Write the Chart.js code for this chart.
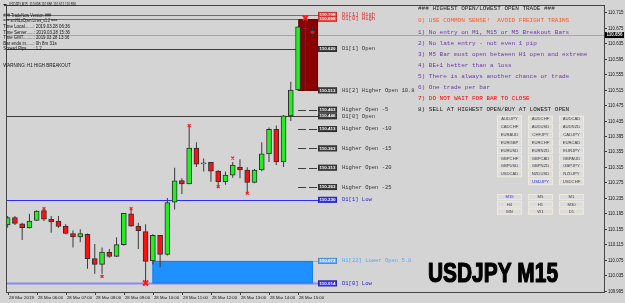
<!DOCTYPE html>
<html><head><meta charset="utf-8">
<script src="https://cdn.jsdelivr.net/npm/chart.js@4.4.1/dist/chart.umd.min.js"></script>
<style>html,body{margin:0;padding:0;background:#d4d4d4;overflow:hidden}canvas{display:block}</style>
</head><body>
<canvas id="c" width="625" height="303"></canvas>
<script>
// ---------- DATA ----------
const candleTimes = ["05:00","05:15","05:30","05:45","06:00","06:15","06:30","06:45","07:00","07:15","07:30","07:45","08:00","08:15","08:30","08:45","09:00","09:15","09:30","09:45","10:00","10:15","10:30","10:45","11:00","11:15","11:30","11:45","12:00","12:15","12:30","12:45","13:00","13:15","13:30","13:45","14:00","14:15","14:30","14:45","15:00","15:15","15:30"];
const openP  = [110.165,110.184,110.168,110.158,110.177,110.202,110.180,110.175,110.162,110.143,110.134,110.141,110.078,110.063,110.094,110.084,110.114,110.194,110.162,110.148,110.072,110.138,110.089,110.224,110.280,110.271,110.364,110.323,110.327,110.304,110.277,110.294,110.314,110.307,110.275,110.307,110.349,110.412,110.328,110.447,110.514,110.675,110.668];
const highP  = [110.188,110.188,110.171,110.194,110.203,110.207,110.188,110.188,110.167,110.151,110.154,110.143,110.116,110.107,110.103,110.133,110.196,110.208,110.171,110.167,110.141,110.139,110.235,110.313,110.286,110.423,110.379,110.337,110.328,110.307,110.303,110.328,110.335,110.314,110.310,110.379,110.417,110.422,110.449,110.535,110.679,110.703,110.676];
const lowP   = [110.158,110.165,110.126,110.156,110.175,110.175,110.145,110.158,110.141,110.107,110.120,110.052,110.039,110.039,110.080,110.082,110.111,110.161,110.103,110.014,110.063,110.056,110.086,110.205,110.245,110.270,110.315,110.303,110.277,110.262,110.269,110.287,110.286,110.245,110.273,110.304,110.328,110.320,110.315,110.434,110.512,110.512,110.652];
const closeP = [110.184,110.169,110.158,110.175,110.201,110.180,110.173,110.161,110.143,110.134,110.143,110.078,110.063,110.095,110.084,110.114,110.195,110.162,110.150,110.071,110.138,110.089,110.223,110.279,110.271,110.364,110.322,110.325,110.304,110.277,110.294,110.320,110.307,110.275,110.307,110.349,110.412,110.328,110.447,110.514,110.677,110.671,110.658];

const fractalIdx   = [5,13,17,25,29,31,33];
const fractalPrice = [110.207,110.032,110.207,110.422,110.264,110.338,110.247];
const bigMarkIdx   = [19,41];
const bigMarkPrice = [110.015,110.700];

const levelNames  = ["D1[1] High","D1[0] High","D1[1] Open","H1[2] Higher Open 10.8","Higher Open -5","D1[0] Open","Higher Open -10","Higher Open -15","Higher Open -20","Higher Open -25","D1[1] Low","H1[22] Lower Open 5.8","D1[0] Low"];
const levelPrices = [110.708,110.698,110.620,110.513,110.463,110.446,110.413,110.363,110.313,110.263,110.230,110.072,110.014];

const bidPrice = 110.656;
// zones: [startIdx, endIdx, lowPrice, highPrice]
const blueZone = [19.95, 42.05, 110.014, 110.072];
const redZone  = [40.05, 42.75, 110.512, 110.697];

const yTicks = [110.715,110.675,110.635,110.595,110.555,110.515,110.475,110.435,110.395,110.355,110.315,110.275,110.235,110.195,110.155,110.115,110.075,110.035,109.995];
const xTickIdx = [0,4,8,12,16,20,24,28,32,36,40];
const xTickLabels = ["28 Mar 2019","28 Mar 06:00","28 Mar 07:00","28 Mar 08:00","28 Mar 09:00","28 Mar 10:00","28 Mar 11:00","28 Mar 12:00","28 Mar 13:00","28 Mar 14:00","28 Mar 15:00"];

const headerText = "USDJPY,M15  110.698 110.686 110.612 110.656";
const infoLines = ["### TradeNow Version ###","=== smHiLoOpen Lines_v1.2 ===","Time Local.......: 2019.03.28 06:36","Time Server......: 2019.03.28 15:36","Time GMT.........: 2019.03.28 13:36","Bar ends in......: 0h 8m 31s","Spread Pips......: 1.2","WARNING: H1 HIGH BREAKOUT"];
const ruleLines = ["### HIGHEST OPEN/LOWEST OPEN TRADE ###","0) USE COMMON SENSE!  AVOID FREIGHT TRAINS","1) No entry on M1, M15 or M5 Breakout Bars","2) No late entry - not even 1 pip","3) M5 Bar must open between H1 open and extreme","4) BE+1 better than a loss","5) There is always another chance or trade","6) One trade per bar","7) DO NOT WAIT FOR BAR TO CLOSE","8) SELL AT HIGHEST OPEN/BUY AT LOWEST OPEN"];
const pairRows = [["AUDJPY","AUDCHF","AUDCAD"],["CADCHF","AUDUSD","AUDNZD"],["EURAUD","CHFJPY","CADJPY"],["EURGBP","EURCHF","EURCAD"],["EURUSD","EURNZD","EURJPY"],["GBPCHF","GBPCAD","GBPAUD"],["GBPUSD","GBPNZD","GBPJPY"],["USDCAD","NZDUSD","NZDJPY"],["","USDJPY","USDCHF"]];
const tfRows = [["M15","M5","M1"],["H4","H1","M30"],["MN","W1","D1"]];
const activeButtons = ["USDJPY","M15"];
const bigTitle = "USDJPY M15";

// ---------- STYLE ----------
const BG = '#d4d4d4';
const UP = '#22ee22', DOWN = '#ff1010';
const levelLine  = ['#ff3030','#ff3030','#3c3c3c','#3c3c3c','#3c3c3c','#3c3c3c','#3c3c3c','#3c3c3c','#3c3c3c','#3c3c3c','#2c2cff','#6ab4ff','#8a8af2'];
const levelFill  = ['#ff3a3a','#ff3a3a','#3c3c3c','#3c3c3c','#3c3c3c','#3c3c3c','#3c3c3c','#3c3c3c','#3c3c3c','#3c3c3c','#2c2cff','#62b0ff','#3030ff'];
const levelText  = ['#e82020','#e82020','#333333','#333333','#333333','#333333','#333333','#333333','#333333','#333333','#2424d8','#55a8ff','#2424d8'];
const levelKind  = ['full','full','full','short','short','full','short','short','short','short','full','tail','full2'];
const ruleColors = ['#262626','#ff5a28','#6a38a8','#6a38a8','#6a38a8','#6a38a8','#6a38a8','#6a38a8','#ff0000','#1a1a1a'];
const LABEL_IDX = 42.75;

function T(ctx, s, x, y, font, color, w, align, stroke) {
  ctx.save();
  ctx.font = font; ctx.fillStyle = color; ctx.textBaseline = 'middle';
  let m = ctx.measureText(s).width;
  let sx = w ? w / m : 1;
  let tx = x;
  if (align === 'center') tx = x - (m * sx) / 2;
  ctx.translate(tx, y); ctx.scale(sx, 1);
  ctx.fillText(s, 0, 0);
  if (stroke) { ctx.strokeStyle = color; ctx.lineWidth = stroke; ctx.lineJoin = 'round'; ctx.strokeText(s, 0, 0); }
  ctx.restore();
}

const mt4 = {
  id: 'mt4',
  beforeDraw(chart) {
    const ctx = chart.ctx;
    ctx.save(); ctx.fillStyle = BG; ctx.fillRect(0, 0, chart.width, chart.height); ctx.restore();
  },
  beforeDatasetsDraw(chart) {
    const {ctx, chartArea: a, scales: {x: xs, y: ys}} = chart;
    const lx = xs.getPixelForValue(LABEL_IDX);
    ctx.save();
    let by = Math.round(ys.getPixelForValue(bidPrice)) + 0.5;
    ctx.strokeStyle = '#a2a6b4'; ctx.lineWidth = 1;
    ctx.beginPath(); ctx.moveTo(a.left, by); ctx.lineTo(a.right, by); ctx.stroke();
    levelPrices.forEach((p, i) => {
      const yy = Math.round(ys.getPixelForValue(p)) + 0.5;
      const k = levelKind[i];
      ctx.strokeStyle = levelLine[i]; ctx.lineWidth = 1; ctx.setLineDash([]);
      let x0 = a.left;
      if (k === 'short') { x0 = xs.getPixelForValue(40); ctx.setLineDash([8, 3]); }
      if (k === 'tail') x0 = xs.getPixelForValue(blueZone[1]);
      if (k === 'full2') ctx.lineWidth = 2;
      ctx.beginPath(); ctx.moveTo(x0, yy); ctx.lineTo(lx, yy); ctx.stroke();
    });
    ctx.setLineDash([]);
    const zone = (z, fill, stroke) => {
      const x0 = xs.getPixelForValue(z[0]), x1 = xs.getPixelForValue(z[1]);
      const y0 = ys.getPixelForValue(z[3]), y1 = ys.getPixelForValue(z[2]);
      ctx.fillStyle = fill; ctx.fillRect(x0, y0, x1 - x0, y1 - y0);
      ctx.strokeStyle = stroke; ctx.lineWidth = 1; ctx.strokeRect(x0 + 0.5, y0 + 0.5, x1 - x0 - 1, y1 - y0 - 1);
    };
    zone(blueZone, '#1e90ff', '#1a7de0');
    zone(redZone, '#8b0000', '#6a0000');
    ctx.restore();
  },
  afterDatasetsDraw(chart) {
    const {ctx, chartArea: a, scales: {x: xs, y: ys}} = chart;
    const lx = xs.getPixelForValue(LABEL_IDX);
    ctx.save();
    ctx.strokeStyle = '#444'; ctx.lineWidth = 1;
    ctx.strokeRect(a.left + 0.5, a.top - 0.5, a.right - a.left, a.bottom - a.top + 1);
    yTicks.forEach(v => {
      const py = Math.round(ys.getPixelForValue(v)) + 0.5;
      ctx.strokeStyle = '#444'; ctx.beginPath(); ctx.moveTo(a.right, py); ctx.lineTo(a.right + 3, py); ctx.stroke();
      T(ctx, v.toFixed(3), a.right + 4, py, '4.6px "Liberation Sans", Arial, sans-serif', '#111', 15.5);
    });
    const cy = ys.getPixelForValue(bidPrice);
    ctx.fillStyle = '#000'; ctx.fillRect(a.right + 1, cy - 3, 19, 6);
    T(ctx, bidPrice.toFixed(3), a.right + 2.5, cy, 'bold 4.6px "Liberation Sans", Arial, sans-serif', '#fff', 16);
    xTickIdx.forEach((ix, j) => {
      const px = Math.round(xs.getPixelForValue(ix)) + 0.5;
      ctx.strokeStyle = '#444'; ctx.beginPath(); ctx.moveTo(px, a.bottom); ctx.lineTo(px, a.bottom + 3); ctx.stroke();
      T(ctx, xTickLabels[j], px + 0.5, a.bottom + 5.5, '4.4px "Liberation Sans", Arial, sans-serif', '#111', 25);
    });
    levelPrices.forEach((p, i) => {
      const yy = ys.getPixelForValue(p);
      ctx.fillStyle = levelFill[i]; ctx.fillRect(lx, yy - 3, 19, 6);
      ctx.strokeStyle = 'rgba(0,0,0,0.35)'; ctx.lineWidth = 0.6; ctx.strokeRect(lx + 0.3, yy - 2.7, 18.4, 5.4);
      T(ctx, p.toFixed(3), lx + 9.5, yy, 'bold 4.4px "Liberation Sans", Arial, sans-serif', '#fff', 16, 'center');
      T(ctx, levelNames[i], lx + 24, yy, '5.5px "Liberation Mono", "DejaVu Sans Mono", monospace', levelText[i]);
    });
    ctx.fillStyle = '#222';
    ctx.beginPath(); ctx.moveTo(3, 4); ctx.lineTo(7, 4); ctx.lineTo(5, 6.5); ctx.closePath(); ctx.fill();
    T(ctx, headerText, 9, 5, '4.5px "Liberation Sans", Arial, sans-serif', '#111', 67);
    const infoY = [15.7, 21, 26.7, 32.7, 38, 43.3, 49, 65.7];
    const infoW = [48, 54, 66.7, 66.7, 66, 53.4, 38.4, 67.4];
    infoLines.forEach((s, i) => T(ctx, s, 3.3, infoY[i], '4.6px "Liberation Sans", Arial, sans-serif', '#111', infoW[i]));
    const ruleY = [8.3, 20.5, 32, 43, 54, 65, 76, 87.3, 98.3, 109.2];
    ruleLines.forEach((s, i) => T(ctx, s, 418, ruleY[i], '6px "Liberation Mono", "DejaVu Sans Mono", monospace', ruleColors[i]));
    const colX = [497, 528, 559], bw = 25;
    const btn = (label, x, y, h) => {
      if (!label) return;
      ctx.fillStyle = '#dcdcdc'; ctx.fillRect(x, y, bw, h);
      ctx.strokeStyle = '#eeebdd'; ctx.lineWidth = 1; ctx.strokeRect(x + 0.5, y + 0.5, bw - 1, h - 1);
      const col = activeButtons.includes(label) ? '#2a2aff' : '#444';
      T(ctx, label, x + bw / 2, y + h / 2 + 0.2, '4.2px "Liberation Sans", Arial, sans-serif', col, null, 'center');
    };
    pairRows.forEach((r, ri) => r.forEach((lab, ci) => btn(lab, colX[ci], 115.7 + ri * 7.83, 6.8)));
    tfRows.forEach((r, ri) => r.forEach((lab, ci) => btn(lab, colX[ci], 194 + ri * 7.2, 6.2)));
    T(ctx, bigTitle, 428, 275, 'bold 27px "Liberation Sans", Arial, sans-serif', '#000', 130, null, 1.2);
    ctx.restore();
  }
};

const idx = candleTimes.map((t, i) => i);
const bodyColors = idx.map(i => closeP[i] >= openP[i] ? UP : DOWN);

new Chart(document.getElementById('c'), {
  type: 'bar',
  data: {
    datasets: [
      { type: 'scatter', label: 'big', order: 0, data: bigMarkIdx.map((v, i) => ({x: v, y: bigMarkPrice[i]})),
        pointStyle: 'crossRot', radius: 3.5, borderWidth: 2, borderColor: '#ff1a1a', backgroundColor: '#ff1a1a' },
      { type: 'scatter', label: 'fractals', order: 0, data: fractalIdx.map((v, i) => ({x: v, y: fractalPrice[i]})),
        pointStyle: 'crossRot', radius: 2, borderWidth: 1.3, borderColor: '#ff2020', backgroundColor: '#ff2020' },
      { label: 'body', order: 1, grouped: false, data: idx.map(i => ({x: i, y: [openP[i], closeP[i]]})),
        backgroundColor: bodyColors, borderColor: '#2e2e2e', borderWidth: 1, borderSkipped: false, barThickness: 5, minBarLength: 1 },
      { label: 'wick', order: 2, grouped: false, data: idx.map(i => ({x: i, y: [lowP[i], highP[i]]})),
        backgroundColor: '#3a3a3a', borderWidth: 0, barThickness: 1, inflateAmount: 0 }
    ]
  },
  options: {
    responsive: false, animation: false, devicePixelRatio: 1, events: [],
    layout: { padding: { left: 0, top: 2, right: 21, bottom: 11 } },
    plugins: { legend: { display: false }, tooltip: { enabled: false } },
    scales: {
      x: { type: 'linear', min: -0.2277, max: 82.14, offset: false, display: false },
      y: { type: 'linear', min: 109.9917, max: 110.7311, beginAtZero: false, display: false }
    }
  },
  plugins: [mt4]
});
</script>
</body></html>
